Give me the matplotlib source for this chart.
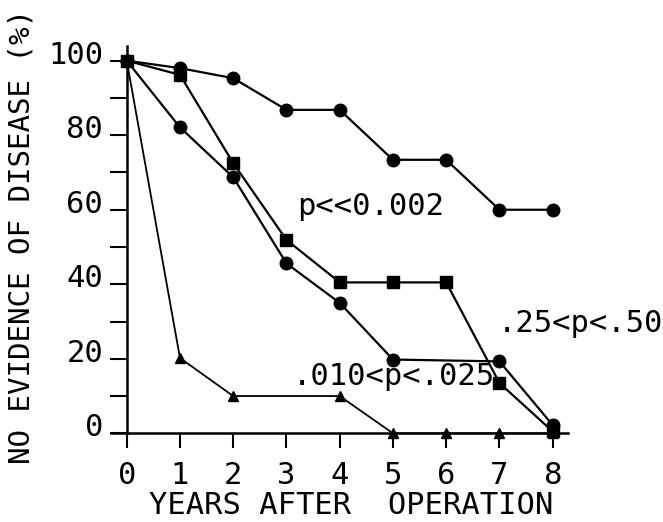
import numpy as np
import matplotlib
matplotlib.use("Agg")
import matplotlib.pyplot as plt
from matplotlib.transforms import ScaledTranslation

# values (percent with no evidence of disease)
years_top = [0, 1, 2, 3, 4, 5, 6, 7, 8]
nedp_top = [100, 98, 95.3, 86.8, 86.8, 73.4, 73.4, 60, 60]

years_sq = [0, 1, 2, 3, 4, 5, 6, 7, 8]
nedp_sq = [100, 96.2, 72.5, 51.9, 40.5, 40.5, 40.5, 13.5, 0.5]

years_mid = [0, 1, 2, 3, 4, 5, 7, 8]
nedp_mid = [100, 82.1, 68.7, 45.6, 35, 19.8, 19.3, 2.2]

years_tri = [0, 1, 2, 4, 5, 6, 7, 8]
nedp_tri = [100, 20.2, 10, 10, 0, 0, 0, 0]

xticks = list(range(0, 9))
yticks_major = [0, 20, 40, 60, 80, 100]
yticks_minor = [10, 30, 50, 70, 90]

annotations = [
    (3.2, 61, "p<<0.002"),
    (6.97, 29.6, ".25<p<.50"),
    (3.12, 15.2, ".010<p<.025"),
]

FONT = "DejaVu Sans Mono"
FS = 22

fig = plt.figure(figsize=(6.63, 5.22), dpi=100)
ax = fig.add_axes([0.151, 0.1556, 0.7228, 0.771])
ax.set_xlim(-0.5, 8.5)
ax.set_ylim(-2, 106)

lw = 1.6
ax.plot(years_top, nedp_top, color="black", lw=lw, marker="o", ms=9, zorder=3)
ax.plot(years_sq, nedp_sq, color="black", lw=lw, marker="s", ms=8, zorder=3)
ax.plot(years_mid, nedp_mid, color="black", lw=lw, marker="o", ms=9, zorder=3)
ax.plot(years_tri, nedp_tri, color="black", lw=1.3, marker="^", ms=7, zorder=3)

for s in ["top", "right"]:
    ax.spines[s].set_visible(False)
ax.spines["left"].set_position(("data", 0))
ax.spines["bottom"].set_position(("data", 0))
ax.spines["left"].set_bounds(0, 104)
ax.spines["bottom"].set_bounds(-0.3, 8.29)
ax.spines["left"].set_linewidth(1.8)
ax.spines["bottom"].set_linewidth(1.8)

ax.set_xticks(xticks)
ax.set_xticklabels([str(v) for v in xticks])
ax.set_yticks(yticks_major)
ax.set_yticklabels([str(v) for v in yticks_major])
ax.set_yticks(yticks_minor, minor=True)
ax.tick_params(axis="x", direction="out", length=11, width=1.5, pad=9)
ax.tick_params(axis="y", which="both", direction="out", length=12, width=1.5, pad=5)

for lab in ax.get_xticklabels() + ax.get_yticklabels():
    lab.set_fontfamily(FONT)
    lab.set_fontsize(FS)
# y labels sit a little above their ticks
shift = ScaledTranslation(0, 6 / 72, fig.dpi_scale_trans)
for lab in ax.get_yticklabels():
    lab.set_transform(lab.get_transform() + shift)

for x, y, txt in annotations:
    ax.text(x, y, txt, fontfamily=FONT, fontsize=FS, ha="left", va="center")

fig.text(351 / 663, 1 - 506 / 522, "YEARS AFTER  OPERATION",
         fontfamily=FONT, fontsize=FS, ha="center", va="center")
fig.text(22 / 663, 1 - 236 / 522, "NO EVIDENCE OF DISEASE (%)",
         fontfamily=FONT, fontsize=21, ha="center", va="center", rotation=90)

fig.savefig("out.png", dpi=100)
